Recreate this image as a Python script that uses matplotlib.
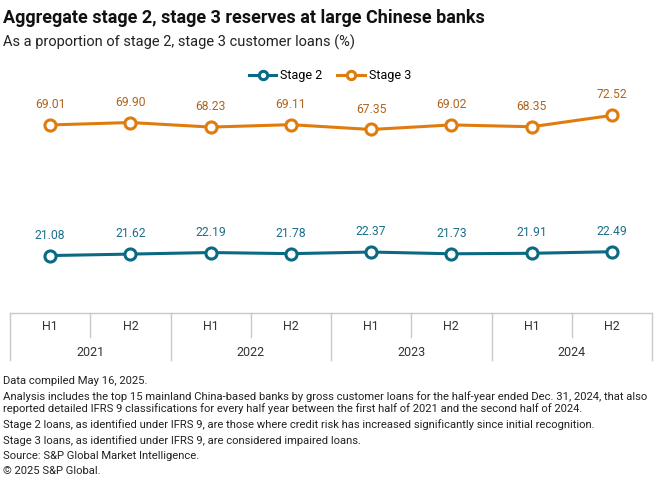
import matplotlib.pyplot as plt

plt.rcParams['font.family'] = ['Roboto', 'DejaVu Sans']

periods = ["H1", "H2", "H1", "H2", "H1", "H2", "H1", "H2"]
years = ["2021", "2022", "2023", "2024"]
stage2 = [21.08, 21.62, 22.19, 21.78, 22.37, 21.73, 21.91, 22.49]
stage3 = [69.01, 69.90, 68.23, 69.11, 67.35, 69.02, 68.35, 72.52]

teal = '#0b6a83'
orange = '#e07c0e'
teal_txt = '#1b6f8c'
orange_txt = '#b0641f'
grid = '#c9c9c9'

W, H = 660, 488
fig = plt.figure(figsize=(W / 100, H / 100), dpi=100)

# main plot area
ax = fig.add_axes([10 / W, (H - 313) / H, 642 / W, (313 - 95) / H])
ax.set_xlim(-0.5, len(periods) - 0.5)
ax.set_ylim(0, 80)
ax.axis('off')

x = list(range(len(periods)))
for vals, col, tcol, name in [(stage2, teal, teal_txt, 'Stage 2'),
                              (stage3, orange, orange_txt, 'Stage 3')]:
    ax.plot(x, vals, color=col, lw=2.2, marker='o', ms=8, mfc='white',
            mec=col, mew=2.2, label=name, clip_on=False)
    for xi, v in zip(x, vals):
        ax.annotate(f"{v:.2f}", (xi, v), xytext=(0, 10), textcoords='offset points',
                    ha='center', va='bottom', fontsize=8.7, color=tcol)

leg = fig.legend(loc='center', bbox_to_anchor=(330 / W, (H - 76) / H), ncol=2,
                 frameon=False, fontsize=9, handlelength=2.2, columnspacing=1.2,
                 handletextpad=0.3, markerscale=0.75)

# category axis table
ax2 = fig.add_axes([10 / W, (H - 360) / H, 642 / W, 47 / H])
ax2.set_xlim(-0.5, len(periods) - 0.5)
ax2.set_ylim(0, 47)
ax2.axis('off')
ax2.plot([-0.5, len(periods) - 0.5], [47, 47], color=grid, lw=1, clip_on=False)
for i in range(len(periods) + 1):
    b = i - 0.5
    if i % 2 == 0:
        ax2.plot([b, b], [0, 47], color=grid, lw=1, clip_on=False)
    else:
        ax2.plot([b, b], [23, 47], color=grid, lw=1, clip_on=False)
for xi, p in zip(x, periods):
    ax2.text(xi, 33, p, ha='center', va='center', fontsize=9, color='#333333')
for j, yr in enumerate(years):
    ax2.text(2 * j + 0.5, 8, yr, ha='center', va='center', fontsize=9, color='#333333')

# titles
fig.text(3 / W, 1 - 18 / H, "Aggregate stage 2, stage 3 reserves at large Chinese banks",
         fontsize=13, fontweight='bold', color='#111111', va='center')
fig.text(3 / W, 1 - 42 / H, "As a proportion of stage 2, stage 3 customer loans (%)",
         fontsize=10.5, color='#222222', va='center')

notes = [
    (381, "Data compiled May 16, 2025."),
    (397, "Analysis includes the top 15 mainland China-based banks by gross customer loans for the half-year ended Dec. 31, 2024, that also"),
    (409, "reported detailed IFRS 9 classifications for every half year between the first half of 2021 and the second half of 2024."),
    (425, "Stage 2 loans, as identified under IFRS 9, are those where credit risk has increased significantly since initial recognition."),
    (441, "Stage 3 loans, as identified under IFRS 9, are considered impaired loans."),
    (456, "Source: S&P Global Market Intelligence."),
    (471, "\u00a9 2025 S&P Global."),
]
for yy, t in notes:
    fig.text(3 / W, 1 - yy / H, t, fontsize=8.1, color='#222222', va='center')

fig.savefig('out.png', dpi=100)
